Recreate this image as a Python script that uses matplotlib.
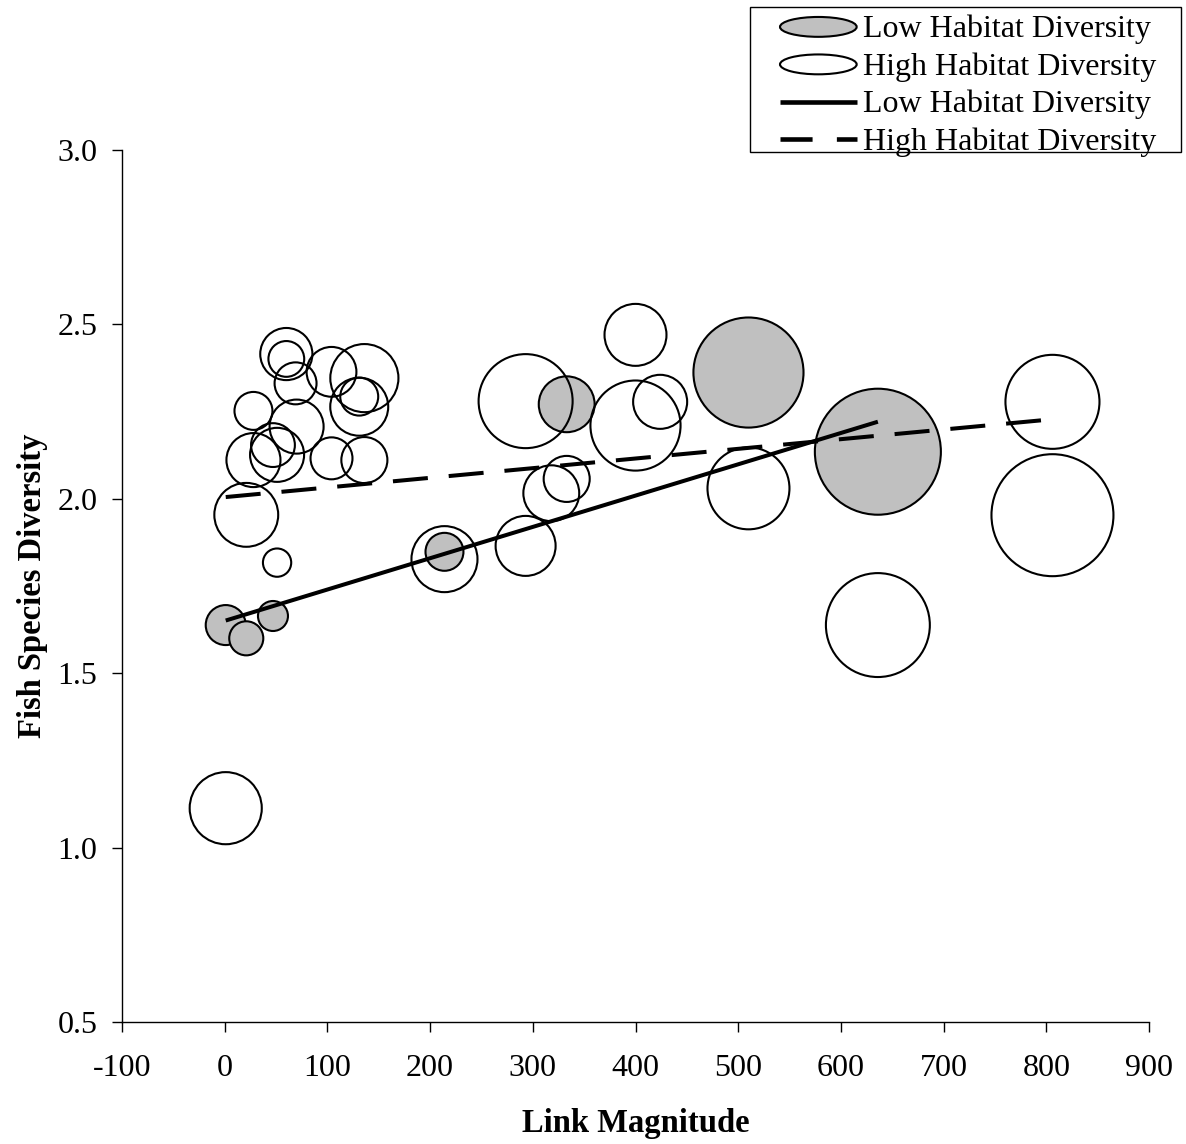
import numpy as np
import matplotlib.pyplot as plt
from matplotlib.patches import Ellipse, Patch, Rectangle
from matplotlib.lines import Line2D
from matplotlib.legend_handler import HandlerPatch

plt.rcParams['font.family'] = ['Liberation Serif', 'DejaVu Serif']
plt.rcParams['axes.unicode_minus'] = False

# Low habitat diversity sites (grey bubbles)
low_x = [1, 21, 47, 214, 333, 510, 636]
low_y = [1.638, 1.600, 1.664, 1.848, 2.271, 2.362, 2.135]
low_size = [4.0, 2.9, 2.25, 3.6, 7.8, 30.3, 39.7]

# High habitat diversity sites (open bubbles)
high_x = [60, 60, 69, 104, 136, 131, 131, 28, 70, 28, 47, 51, 104, 136, 21, 51,
          400, 293, 400, 424, 333, 318, 293, 214, 510, 636, 806, 806, 1]
high_y = [2.415, 2.401, 2.331, 2.364, 2.346, 2.293, 2.264, 2.252, 2.207, 2.111,
          2.154, 2.126, 2.116, 2.111, 1.954, 1.817, 2.470, 2.280, 2.210, 2.278,
          2.057, 2.016, 1.865, 1.827, 2.030, 1.638, 2.278, 1.953, 1.113]
high_size = [6.8, 3.2, 4.4, 6.2, 11.6, 3.6, 8.4, 3.6, 7.3, 7.3,
             4.8, 7.3, 4.4, 5.3, 10.2, 2.0, 9.6, 22.1, 20.3, 7.3,
             5.3, 7.8, 9.0, 10.9, 16.8, 27.0, 22.1, 37.2, 13.0]

# trend lines (end points)
low_trend_x = [1, 636]
low_trend_y = [1.651, 2.221]
high_trend_x = [1, 806]
high_trend_y = [2.005, 2.228]

x_ticks = [-100, 0, 100, 200, 300, 400, 500, 600, 700, 800, 900]
y_ticks = [0.5, 1.0, 1.5, 2.0, 2.5, 3.0]


class HandlerEllipse(HandlerPatch):
    def create_artists(self, legend, orig_handle, xdescent, ydescent,
                       width, height, fontsize, trans):
        center = 0.5 * width - 0.5 * xdescent, 0.5 * height - 0.5 * ydescent
        p = Ellipse(xy=center, width=width, height=height)
        self.update_prop(p, orig_handle, legend)
        p.set_transform(trans)
        return [p]


W, H = 1186, 1144
fig = plt.figure(figsize=(W / 100, H / 100), dpi=100)
ax = fig.add_axes([122 / W, 1 - 1022 / H, 1027 / W, 872 / H])

k = 207.36
ax.scatter(low_x, low_y, s=np.array(low_size) * k, facecolor='#c0c0c0',
           edgecolor='black', linewidth=1.5, zorder=2)
ax.scatter(high_x, high_y, s=np.array(high_size) * k, facecolor='none',
           edgecolor='black', linewidth=1.5, zorder=3)

ax.plot(low_trend_x, low_trend_y, color='black', linewidth=2.9,
        solid_capstyle='butt', zorder=4)
ax.plot(high_trend_x, high_trend_y, color='black', linewidth=2.9,
        dashes=(8.7, 5.2), dash_capstyle='butt', zorder=4)

ax.set_xlim(-100, 900)
ax.set_ylim(0.5, 3.0)
ax.set_xticks(x_ticks)
ax.set_yticks(y_ticks)
ax.set_yticklabels([f'{v:.1f}' for v in y_ticks])
for s in ['top', 'right']:
    ax.spines[s].set_visible(False)
for s in ['left', 'bottom']:
    ax.spines[s].set_linewidth(1.0)
ax.tick_params(axis='both', direction='out', length=7.2, width=1.0,
               labelsize=23)
ax.tick_params(axis='y', pad=10.5)
ax.tick_params(axis='x', pad=16)

ax.set_xlabel('Link Magnitude', fontsize=23.5, fontweight='bold', labelpad=18)
ax.set_ylabel('Fish Species Diversity', fontsize=23.5, fontweight='bold',
              labelpad=7)

handles = [
    Patch(facecolor='#c0c0c0', edgecolor='black', linewidth=1.5),
    Patch(facecolor='white', edgecolor='black', linewidth=1.5),
    Line2D([], [], color='black', linewidth=3.3, solid_capstyle='butt'),
    Line2D([], [], color='black', linewidth=3.3, dashes=(7.0, 5.3),
           dash_capstyle='butt'),
]
labels = ['Low Habitat Diversity', 'High Habitat Diversity',
          'Low Habitat Diversity', 'High Habitat Diversity']
leg = fig.legend(handles, labels, loc='upper left',
                 bbox_to_anchor=(780 / W, 1 - 15 / H), fontsize=23,
                 handler_map={Patch: HandlerEllipse()},
                 frameon=False, handlelength=2.4, handleheight=0.58,
                 handletextpad=0.2, labelspacing=0.25, borderpad=0,
                 borderaxespad=0)
# legend box
fig.patches.append(Rectangle((750 / W, 1 - 152 / H), 431 / W, 145 / H,
                             transform=fig.transFigure, fill=False,
                             edgecolor='black', linewidth=1.0))

fig.savefig('out.png', dpi=100)
